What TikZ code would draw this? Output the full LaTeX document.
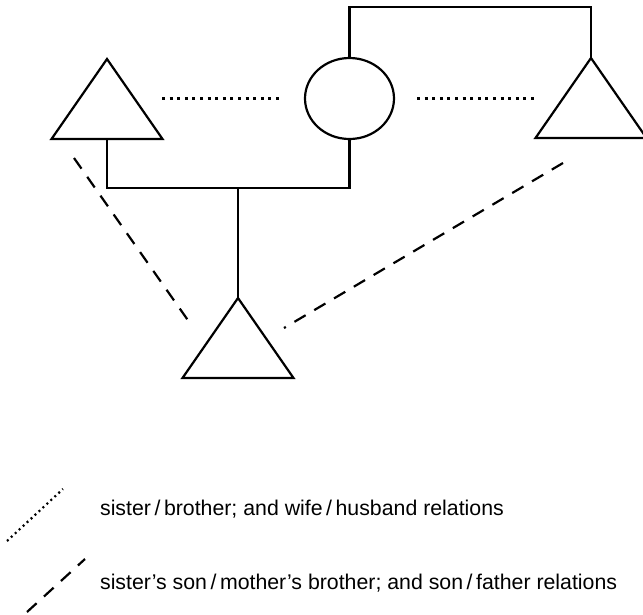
\documentclass[tikz,border=0pt]{standalone}
\usepackage{fontspec}
\newfontfamily\legendFont{Liberation Sans}
\usetikzlibrary{shapes.geometric}

\begin{document}
\begin{tikzpicture}[x=1pt, y=-1pt, line width=2.2pt,
    male/.style={draw, isosceles triangle, isosceles triangle stretches,
        shape border rotate=90, minimum width=111pt, minimum height=80pt,
        inner sep=0pt, outer sep=0pt, anchor=apex},
    female/.style={draw, ellipse, minimum width=89pt, minimum height=81pt,
        inner sep=0pt, outer sep=0pt},
    siblingLine/.style={dash pattern=on 3pt off 4.6pt},
    descentLine/.style={dash pattern=on 13pt off 10pt},
    keyText/.style={anchor=base west, inner sep=0pt,
        font=\legendFont\fontsize{21.3}{25}\selectfont}]

    % Page size
    \useasboundingbox (0,0) rectangle (643,614);

    % The four relatives
    \node[male] (uncle) at (107,59) {};
    \node[female] (mother) at (349.5,98.5) {};
    \node[male] (father) at (591,58) {};
    \node[male] (son) at (238,298) {};

    % Marriage bracket over the top
    \draw (mother.north) -- ++(0,-51) -| (father.apex);

    % Sibling bracket below, the son hangs from it
    \draw (uncle.lower side) -- ++(0,49) -| (mother.south);
    \coordinate (descent) at (238,188);
    \draw (descent) -- (son.apex);

    % Dotted relations
    \draw[siblingLine, shorten <=55pt, shorten >=22pt] (uncle.apex |- mother.west) -- (mother.west);
    \draw[siblingLine, shorten <=23pt, shorten >=53pt] (mother.east) -- (father.apex |- mother.east);

    % Dashed relations
    \coordinate (uncleEnd) at (74,158);
    \coordinate (sonLeft) at (192,326);
    \coordinate (fatherEnd) at (563,163);
    \coordinate (sonRight) at (284,328);
    \draw[descentLine] (uncleEnd) -- (sonLeft);
    \draw[descentLine] (fatherEnd) -- (sonRight);

    % Key
    \coordinate (keyDotA) at (7,541);
    \coordinate (keyDotB) at (63,489);
    \coordinate (keyDashA) at (27,612);
    \coordinate (keyDashB) at (85,559);
    \draw[dash pattern=on 2pt off 3.4pt] (keyDotA) -- (keyDotB);
    \draw[descentLine] (keyDashA) -- (keyDashB);
    \node[keyText] (keySibling) at (99,515)
        {sister\,/\,brother; and wife\,/\,husband relations};
    \node[keyText] (keyDescent) at (99,589)
        {sister’s son\,/\,mother’s brother; and son\,/\,father relations};

\end{tikzpicture}
\end{document}
